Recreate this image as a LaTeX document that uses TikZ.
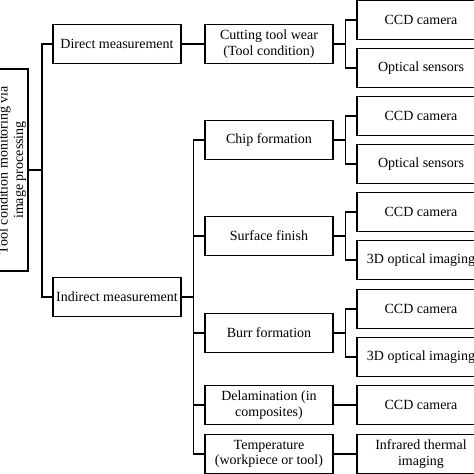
\documentclass[tikz,border=0pt]{standalone}
\usepackage{fontspec}
\setmainfont{Liberation Serif}
\usepackage{tikz}
\usetikzlibrary{calc}

\begin{document}
\begin{tikzpicture}[x=1pt,y=-1pt,
    box/.style={draw,line width=1.4pt,minimum width=128pt,minimum height=39pt,
      inner sep=2pt,align=center,font=\fontsize{14}{15.5}\selectfont},
    link/.style={line width=1.4pt}]
              \clip (0,0) rectangle (474,474);
              % root
              \node[box,rotate=90,minimum width=202pt,minimum height=32pt] (root) at (12,170)
                {Tool condition monitoring via\\image processing};
              % first level
              \node[box] (dm) at (117,44) {Direct measurement};
              \node[box] (im) at (117,297) {Indirect measurement};
              % second level
              \node[box] (ctw) at (269,44) {Cutting tool wear\\(Tool condition)};
              \node[box] (chip) at (269,140) {Chip formation};
              \node[box] (surf) at (269,236) {Surface finish};
              \node[box] (burr) at (269,333) {Burr formation};
              \node[box] (delam) at (269,405) {Delamination (in\\composites)};
              \node[box] (temp) at (269,454) {Temperature\\(workpiece or tool)};
              % third level
              \node[box] (c1) at (421,20) {CCD camera};
              \node[box] (o1) at (421,68) {Optical sensors};
              \node[box] (c2) at (421,116) {CCD camera};
              \node[box] (o2) at (421,164) {Optical sensors};
              \node[box] (c3) at (421,212) {CCD camera};
              \node[box] (d3) at (421,260) {3D optical imaging};
              \node[box] (c4) at (421,309) {CCD camera};
              \node[box] (d4) at (421,357) {3D optical imaging};
              \node[box] (c5) at (421,405) {CCD camera};
              \node[box] (ir) at (421,454) {Infrared thermal\\imaging};

              \draw[link] (root.south) -- ++(13,0) coordinate (j0);
              \draw[link] (dm.west) -| (j0) |- (im.west);
              \draw[link] (dm) -- (ctw);

              \draw[link] (im.east) -- ++(12,0) coordinate (j1);
              \draw[link] (chip.west) -| (j1) |- (temp.west);
              \foreach \n in {surf,burr,delam}
                \draw[link] (\n.west) -- (\n.west -| j1);

              \foreach \p/\a/\b in {ctw/c1/o1,chip/c2/o2,surf/c3/d3,burr/c4/d4}{
                \draw[link] (\p.east) -- ++(12,0) coordinate (k);
                \draw[link] (\a.west) -| (k) |- (\b.west);
              }
              \draw[link] (delam) -- (c5);
              \draw[link] (temp) -- (ir);
            \end{tikzpicture}
\end{document}
